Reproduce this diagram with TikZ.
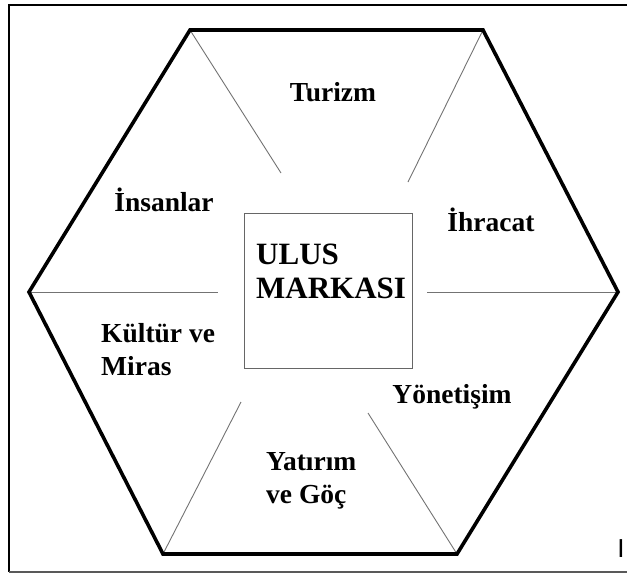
\documentclass[tikz,border=0pt]{standalone}
\usepackage{fontspec}
\setmainfont{Liberation Serif}
\newfontfamily\barfont{Liberation Sans}
\begin{document}
\begin{tikzpicture}[x=1pt,y=-1pt,
  hexline/.style={line width=3.6pt, line join=miter, draw=black},
  spoke/.style={draw=black!55, line width=0.9pt},
  framebox/.style={draw=black!60, line width=1pt, minimum width=168pt, minimum height=155pt, inner sep=0pt},
  lbl/.style={font=\fontsize{27.5}{33}\selectfont\bfseries, inner sep=0pt, align=left},
  bigl/.style={font=\fontsize{31}{34}\selectfont\bfseries, inner sep=0pt, align=left}]
\useasboundingbox (0,0) rectangle (627,573);
% outer frame
\draw[line width=2pt, black] (627,5) -- (9,5) -- (9,572);
\draw[line width=1.5pt, black!65] (9,572) -- (627,572);
% hexagon
\coordinate (TL) at (190,30);
\coordinate (TR) at (483,30);
\coordinate (R) at (618,292);
\coordinate (BR) at (457,554);
\coordinate (BL) at (163,554);
\coordinate (L) at (29,292);
% spoke inner ends
\coordinate (s1) at (281,173);
\coordinate (s2) at (408,182);
\coordinate (s3) at (218,292);
\coordinate (s4) at (427,292);
\coordinate (s5) at (241,402);
\coordinate (s6) at (368,413);
\draw[spoke] (TL) -- (s1);
\draw[spoke] (TR) -- (s2);
\draw[spoke] (L) -- (s3);
\draw[spoke] (R) -- (s4);
\draw[spoke] (BL) -- (s5);
\draw[spoke] (BR) -- (s6);
\draw[hexline] (TL) -- (TR) -- (R) -- (BR) -- (BL) -- (L) -- cycle;
% center box
\node[framebox] (box) at (328,290.5) {};
\node[bigl, anchor=west] (ulus) at (256,271) {ULUS\\MARKASI};
% labels
\node[lbl] (turizm) at (333,92) {Turizm};
\node[lbl] (insan) at (164,200) {İnsanlar};
\node[lbl] (ihracat) at (491,220) {İhracat};
\node[lbl, anchor=west] (kultur) at (101,350) {Kültür ve\\Miras};
\node[lbl] (yonet) at (452,397) {Yönetişim};
\node[lbl, anchor=west] (yatirim) at (266,481) {Yatırım\\ve Göç};
\node[font=\barfont\fontsize{26}{30}\selectfont, inner sep=0pt] (bar) at (621,549) {I};
\end{tikzpicture}
\end{document}
